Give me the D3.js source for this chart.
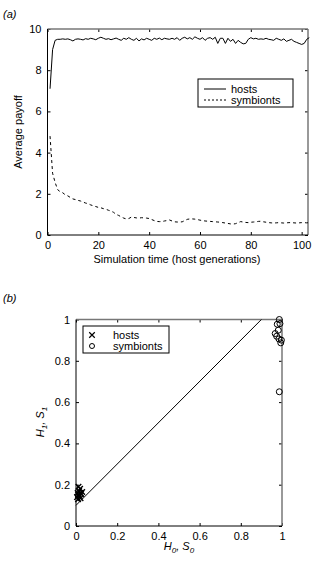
<!DOCTYPE html>
<html>
<head>
<meta charset="utf-8">
<script src="https://cdn.jsdelivr.net/npm/d3@7"></script>
<style>
  body { margin: 0; background: #fff; }
  svg { display: block; font-family: "Liberation Sans", Arial, sans-serif; }
  .tick text { font-size: 11px; fill: #000; }
</style>
</head>
<body>
<svg id="chart" width="314" height="574"></svg>
<script>
// panel (a): average payoff over time
const hostPayoff = [7.1, 9.0, 9.45, 9.5, 9.5, 9.52, 9.5, 9.52, 9.48, 9.42,
  9.5, 9.52, 9.5, 9.47, 9.53, 9.5, 9.55, 9.52, 9.48, 9.55,
  9.6, 9.55, 9.5, 9.53, 9.48, 9.52, 9.56, 9.5, 9.45, 9.55,
  9.5, 9.58, 9.5, 9.45, 9.55, 9.42, 9.52, 9.47, 9.55, 9.5,
  9.45, 9.55, 9.5, 9.56, 9.48, 9.55, 9.52, 9.5, 9.55, 9.5,
  9.58, 9.45, 9.55, 9.6, 9.52, 9.58, 9.5, 9.62, 9.55, 9.5,
  9.58, 9.45, 9.55, 9.58, 9.5, 9.6, 9.3, 9.55, 9.55, 9.3,
  9.55, 9.4, 9.5, 9.3, 9.45, 9.35, 9.28, 9.3, 9.5, 9.58,
  9.52, 9.55, 9.5, 9.52, 9.5, 9.55, 9.5, 9.48, 9.45, 9.55,
  9.5, 9.45, 9.52, 9.4, 9.45, 9.5, 9.4, 9.35, 9.3, 9.25,
  9.3, 9.5, 9.58];
const symbiontPayoff = [4.8, 3.0, 2.55, 2.2, 2.1, 2.05, 1.95, 1.9, 1.82, 1.75,
  1.72, 1.68, 1.65, 1.6, 1.55, 1.52, 1.46, 1.42, 1.38, 1.34,
  1.32, 1.28, 1.25, 1.2, 1.16, 1.1, 1.0, 0.95, 0.88, 0.82,
  0.78, 0.8, 0.87, 0.85, 0.83, 0.82, 0.84, 0.83, 0.82, 0.8,
  0.75, 0.7, 0.66, 0.65, 0.65, 0.68, 0.7, 0.73, 0.68, 0.64,
  0.63, 0.63, 0.64, 0.7, 0.76, 0.78, 0.78, 0.77, 0.75, 0.72,
  0.7, 0.68, 0.67, 0.66, 0.65, 0.64, 0.63, 0.62, 0.6, 0.58,
  0.56, 0.54, 0.53, 0.55, 0.6, 0.65, 0.63, 0.61, 0.6, 0.62,
  0.63, 0.64, 0.66, 0.67, 0.64, 0.62, 0.6, 0.59, 0.58, 0.59,
  0.6, 0.59, 0.58, 0.59, 0.6, 0.6, 0.59, 0.58, 0.59, 0.6,
  0.6, 0.59, 0.6];
const generations = d3.range(1, hostPayoff.length + 1);
const timeTicks = [0, 20, 40, 60, 80, 100];
const payoffTicks = [0, 2, 4, 6, 8, 10];

// panel (b): state before (H0,S0) and after (H1,S1)
const hostsX = [0.01, 0.02, 0.015, 0.005, 0.025, 0.01, 0.02, 0.008, 0.018, 0.03, 0.012, 0.022];
const hostsY = [0.15, 0.16, 0.17, 0.14, 0.155, 0.13, 0.18, 0.16, 0.145, 0.165, 0.19, 0.135];
const symbX = [0.987, 0.99, 0.977, 0.982, 0.967, 0.974, 0.985, 0.997, 0.994, 0.987];
const symbY = [1.0, 0.98, 0.977, 0.948, 0.932, 0.919, 0.906, 0.9, 0.887, 0.65];
const diagX = [0, 0.9];
const diagY = [0.1, 1.0];
const unitTicks = [0, 0.2, 0.4, 0.6, 0.8, 1];

const svg = d3.select("#chart");

function frame(g, x, y, xt, yt) {
  const [x0, x1] = x.range();
  const [y0, y1] = y.range();
  g.append("g").attr("transform", `translate(0,${y0})`)
    .call(d3.axisBottom(x).tickValues(xt).tickSizeInner(-3).tickSizeOuter(0).tickPadding(6).tickFormat(d3.format("~g")))
    .call(a => a.select(".domain").remove());
  g.append("g").attr("transform", `translate(${x0},0)`)
    .call(d3.axisLeft(y).tickValues(yt).tickSizeInner(-3).tickSizeOuter(0).tickPadding(6).tickFormat(d3.format("~g")))
    .call(a => a.select(".domain").remove());
  g.append("g").attr("transform", `translate(0,${y1})`)
    .call(d3.axisTop(x).tickValues(xt).tickSizeInner(-3).tickSizeOuter(0).tickFormat(""))
    .call(a => a.select(".domain").remove());
  g.append("g").attr("transform", `translate(${x1},0)`)
    .call(d3.axisRight(y).tickValues(yt).tickSizeInner(-3).tickSizeOuter(0).tickFormat(""))
    .call(a => a.select(".domain").remove());
  g.append("line").attr("x1", x0).attr("x2", x1).attr("y1", y1).attr("y2", y1).attr("stroke", "#777").attr("stroke-width", 1.5);
  g.append("line").attr("x1", x1).attr("x2", x1).attr("y1", y0).attr("y2", y1).attr("stroke", "#777").attr("stroke-width", 1.5);
  g.append("line").attr("x1", x0).attr("x2", x1).attr("y1", y0).attr("y2", y0).attr("stroke", "#000");
  g.append("line").attr("x1", x0).attr("x2", x0).attr("y1", y0).attr("y2", y1).attr("stroke", "#000");
}

// ---- panel (a)
const xa = d3.scaleLinear().domain([0, 102.5]).range([47.5, 308]);
const ya = d3.scaleLinear().domain([0, 10]).range([235, 29]);
const ga = svg.append("g");
frame(ga, xa, ya, timeTicks, payoffTicks);

const lineA = d3.line().x((d, i) => xa(generations[i])).y(d => ya(d));
ga.append("path").datum(hostPayoff).attr("d", lineA)
  .attr("fill", "none").attr("stroke", "#000").attr("stroke-width", 1);
ga.append("path").datum(symbiontPayoff).attr("d", lineA)
  .attr("fill", "none").attr("stroke", "#000").attr("stroke-width", 1).attr("stroke-dasharray", "3,3");

svg.append("text").attr("x", 3).attr("y", 18).attr("font-size", 11).attr("font-style", "italic").text("(a)");
svg.append("text").attr("x", 177).attr("y", 263).attr("font-size", 11).attr("text-anchor", "middle")
  .text("Simulation time (host generations)");
svg.append("text").attr("transform", "translate(22,132) rotate(-90)").attr("font-size", 11)
  .attr("text-anchor", "middle").text("Average payoff");

const legA = ga.append("g").attr("transform", "translate(198,79)");
legA.append("rect").attr("width", 95).attr("height", 28).attr("fill", "#fff").attr("stroke", "#000");
legA.append("line").attr("x1", 6).attr("x2", 28).attr("y1", 10).attr("y2", 10).attr("stroke", "#000");
legA.append("line").attr("x1", 6).attr("x2", 28).attr("y1", 21).attr("y2", 21).attr("stroke", "#000").attr("stroke-dasharray", "2,2");
legA.append("text").attr("x", 33).attr("y", 14).attr("font-size", 11).text("hosts");
legA.append("text").attr("x", 33).attr("y", 25).attr("font-size", 11).text("symbionts");

// ---- panel (b)
const xb = d3.scaleLinear().domain([0, 1]).range([76, 282]);
const yb = d3.scaleLinear().domain([0, 1]).range([526, 319.5]);
const gb = svg.append("g");
frame(gb, xb, yb, unitTicks, unitTicks);

gb.append("line").attr("x1", xb(diagX[0])).attr("y1", yb(diagY[0])).attr("x2", xb(diagX[1])).attr("y2", yb(diagY[1]))
  .attr("stroke", "#000");

const cross = d3.symbol().type(d3.symbolX).size(22);
gb.selectAll(".host").data(hostsX).join("path").attr("class", "host")
  .attr("transform", (d, i) => `translate(${xb(d)},${yb(hostsY[i])})`)
  .attr("d", cross).attr("fill", "none").attr("stroke", "#000").attr("stroke-width", 1.4);
gb.selectAll(".symb").data(symbX).join("circle").attr("class", "symb")
  .attr("cx", d => xb(d)).attr("cy", (d, i) => yb(symbY[i])).attr("r", 3)
  .attr("fill", "none").attr("stroke", "#000").attr("stroke-width", 1);

svg.append("text").attr("x", 3).attr("y", 302).attr("font-size", 11).attr("font-style", "italic").text("(b)");

const xl = svg.append("text").attr("x", 179).attr("y", 550).attr("font-size", 11).attr("text-anchor", "middle").attr("font-style", "italic");
xl.append("tspan").text("H");
xl.append("tspan").attr("font-size", 8).attr("dy", 3).text("0");
xl.append("tspan").attr("dy", -3).text(",  S");
xl.append("tspan").attr("font-size", 8).attr("dy", 3).text("0");

const yl = svg.append("text").attr("transform", "translate(44,422) rotate(-90)").attr("font-size", 11).attr("text-anchor", "middle").attr("font-style", "italic");
yl.append("tspan").text("H");
yl.append("tspan").attr("font-size", 8).attr("dy", 3).text("1");
yl.append("tspan").attr("dy", -3).text(",  S");
yl.append("tspan").attr("font-size", 8).attr("dy", 3).text("1");

const legB = gb.append("g").attr("transform", "translate(83,326)");
legB.append("rect").attr("width", 86).attr("height", 27).attr("fill", "#fff").attr("stroke", "#000");
legB.append("path").attr("transform", "translate(9,9)").attr("d", cross).attr("fill", "none").attr("stroke", "#000").attr("stroke-width", 1.2);
legB.append("circle").attr("cx", 9).attr("cy", 20).attr("r", 2.5).attr("fill", "none").attr("stroke", "#000");
legB.append("text").attr("x", 30).attr("y", 13).attr("font-size", 11).text("hosts");
legB.append("text").attr("x", 30).attr("y", 24).attr("font-size", 11).text("symbionts");
</script>
</body>
</html>
